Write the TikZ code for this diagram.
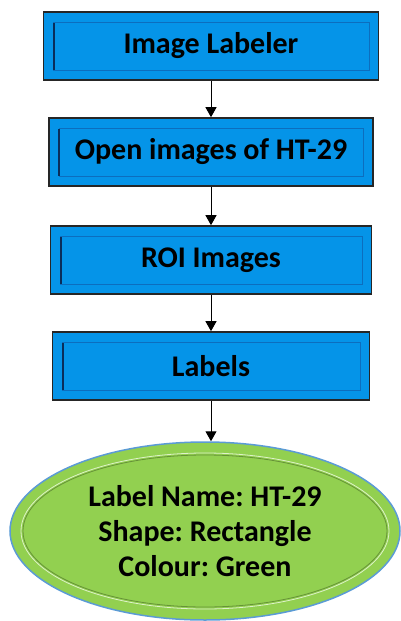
\documentclass[tikz,border=0pt]{standalone}
\usepackage{fontspec}
\setmainfont{Carlito}
\usetikzlibrary{shapes.geometric,arrows.meta}
\frenchspacing

\definecolor{boxblue}{RGB}{5,148,232}
\definecolor{bevelline}{RGB}{12,110,190}
\definecolor{beveldark}{RGB}{10,45,90}
\definecolor{ovgreen}{RGB}{146,208,80}
\definecolor{ovedge}{RGB}{91,155,213}

\tikzset{
  box/.style={draw=black!85, line width=1.6pt, fill=boxblue, minimum height=68pt,
    inner sep=0pt, font=\bfseries\fontsize{30}{36}\selectfont},
  bevel/.style={draw=bevelline, line width=1pt},
  oval/.style={ellipse, draw=ovedge, line width=1.5pt, fill=ovgreen, inner sep=0pt,
    minimum width=390pt, minimum height=178pt, align=center,
    font=\bfseries\fontsize{30}{35}\selectfont},
  arr/.style={-{Triangle[width=11pt,length=10pt]}, line width=1pt, black}
}

\begin{document}
\begin{tikzpicture}[x=1pt, y=-1pt]
        \useasboundingbox (0,0) rectangle (401,621);

        \node[box, minimum width=335pt] at (211, 46) (b1) {Image Labeler};
        \node[box, minimum width=324pt] at (211,152) (b2) {Open images of HT-29};
        \node[box, minimum width=321pt] at (211,260) (b3) {ROI Images};
        \node[box, minimum width=317pt] at (211,366) (b4) {Labels};
        \node[oval] at (205,531) (ov) {Label Name: HT-29\\Shape: Rectangle\\Colour: Green};

        % inner bevels
        \foreach \b in {b1,b2,b3,b4} {
          \draw[bevel] ([shift={(11,11)}]\b.north west) rectangle ([shift={(-10,-10)}]\b.south east);
          \draw[beveldark, line width=2pt] ([shift={(11,12)}]\b.north west) -- ([shift={(11,-11)}]\b.south west);
        }
        \draw[ovgreen!70!black, line width=0.8pt] (ov.center) ellipse [x radius=182pt, y radius=76pt];
        \draw[white!70!ovgreen, line width=0.8pt] (ov.center) ellipse [x radius=184pt, y radius=78pt];

        \draw[arr] (b1.south) -- (b2.north);
        \draw[arr] (b2.south) -- (b3.north);
        \draw[arr] (b3.south) -- (b4.north);
        \draw[arr] (b4.south) -- (b4.south |- ov.north);
\end{tikzpicture}
\end{document}
